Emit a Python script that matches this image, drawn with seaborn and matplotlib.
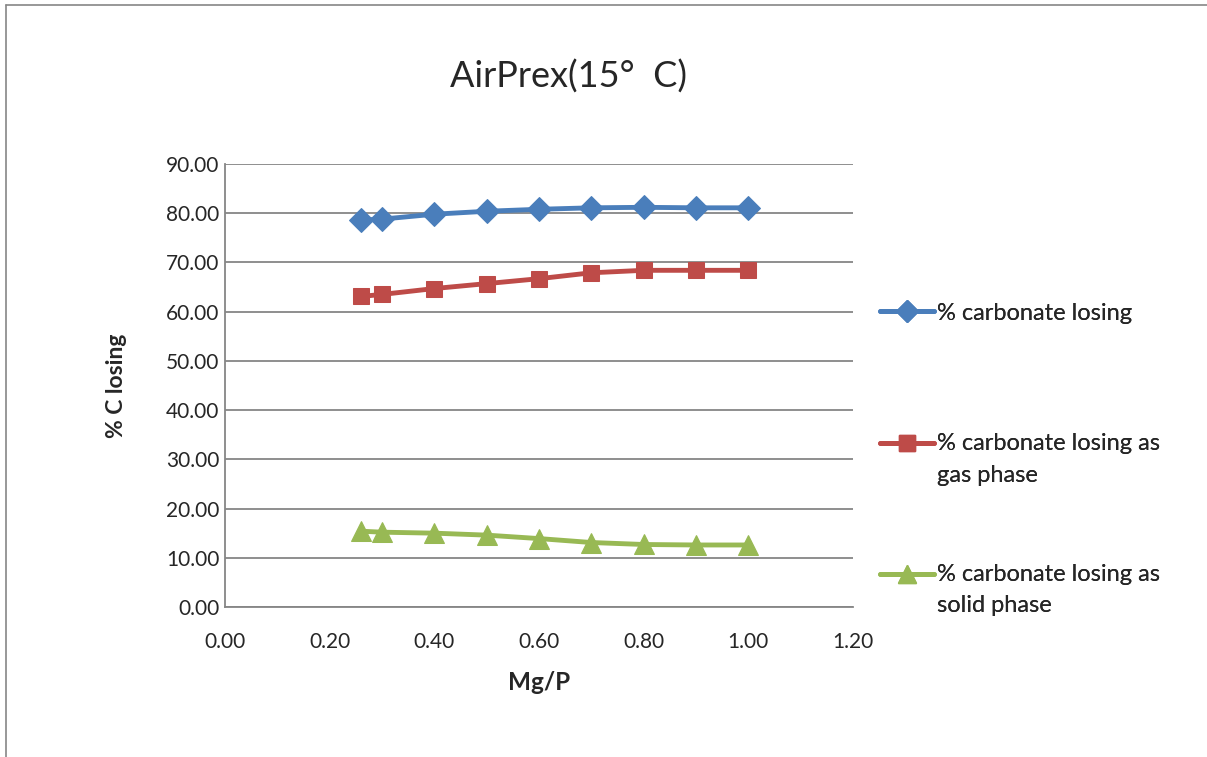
import matplotlib
matplotlib.use("Agg")
import matplotlib.pyplot as plt
import seaborn as sns
import pandas as pd
from matplotlib.lines import Line2D
from matplotlib.legend_handler import HandlerLine2D

mg_p = [0.26, 0.30, 0.40, 0.50, 0.60, 0.70, 0.80, 0.90, 1.00]
carbonate_losing = [78.6, 78.8, 79.8, 80.4, 80.8, 81.1, 81.2, 81.1, 81.1]
losing_gas = [63.1, 63.5, 64.7, 65.7, 66.7, 67.9, 68.4, 68.4, 68.4]
losing_solid = [15.4, 15.2, 15.0, 14.6, 13.9, 13.1, 12.7, 12.6, 12.6]

series_names = ["% carbonate losing",
                "% carbonate losing as\ngas phase",
                "% carbonate losing as\nsolid phase"]
colors = ["#4A7EBB", "#BE4B48", "#98B954"]
markers = ["D", "s", "^"]
marker_sizes = [12, 12, 14]

sns.set_style("white")
plt.rcParams['font.family'] = ['Lato', 'DejaVu Sans']

df = pd.DataFrame({
    "Mg/P": mg_p * 3,
    "value": carbonate_losing + losing_gas + losing_solid,
    "series": sum([[n] * len(mg_p) for n in series_names], []),
})

fig = plt.figure(figsize=(12.07, 7.57), dpi=100)
ax = fig.add_axes([225 / 1207, 1 - 607 / 757, (853 - 225) / 1207, (607 - 164) / 757])

for name, c, m, ms in zip(series_names, colors, markers, marker_sizes):
    sub = df[df["series"] == name]
    sns.lineplot(data=sub, x="Mg/P", y="value", ax=ax, color=c, marker=m,
                 markersize=ms, markeredgecolor=c, linewidth=3.5, legend=False,
                 zorder=3)

ax.set_xlim(0, 1.2)
ax.set_ylim(0, 90)
ax.set_xticks([0, 0.2, 0.4, 0.6, 0.8, 1.0, 1.2])
ax.set_yticks(range(0, 91, 10))
ax.set_xticklabels([f"{v:.2f}" for v in ax.get_xticks()], fontsize=15)
ax.set_yticklabels([f"{v:.2f}" for v in ax.get_yticks()], fontsize=15)
ax.tick_params(axis="x", length=0, pad=18)
ax.tick_params(axis="y", length=0, pad=4)
ax.grid(axis="y", color="#868686", linewidth=1.3)
ax.grid(axis="x", visible=False)
for s in ["top", "right"]:
    ax.spines[s].set_visible(False)
for s in ["left", "bottom"]:
    ax.spines[s].set_color("#868686")
    ax.spines[s].set_linewidth(1.3)

ax.set_xlabel("Mg/P", fontsize=17.5, fontweight="bold", labelpad=14)
ax.set_ylabel("% C losing", fontsize=16.5, fontweight="bold", labelpad=28)

fig.text(568 / 1207, 1 - 77 / 757, "AirPrex(15°  C)", fontsize=26,
         ha="center", va="center")


class FirstLineHandler(HandlerLine2D):
    def __init__(self, offset, **kw):
        super().__init__(**kw)
        self.offset = offset

    def create_artists(self, *args, **kwargs):
        arts = super().create_artists(*args, **kwargs)
        for a in arts:
            a.set_ydata([y + self.offset for y in a.get_ydata()])
        return arts


handles = [Line2D([0], [0], color=c, marker=m, markersize=ms - 1, linewidth=3.5,
                  markeredgecolor=c)
           for c, m, ms in zip(colors, markers, marker_sizes)]
positions = [313, 459.5, 590]
offsets = [0, 11.9, 11.9]
for h, name, yp, off in zip(handles, series_names, positions, offsets):
    leg = fig.legend([h], [name], loc="center left",
                     bbox_to_anchor=(880 / 1207, 1 - yp / 757),
                     frameon=False, fontsize=17, handlelength=2.3,
                     handletextpad=0.1, borderaxespad=0, borderpad=0,
                     handler_map={h: FirstLineHandler(off)})
    for t in leg.get_texts():
        t.set_linespacing(1.6)
    fig.add_artist(leg)

# outer border (top and left)
fig.add_artist(Line2D([6 / 1207, 6 / 1207], [0, 1 - 5 / 757], color="#868686",
                      linewidth=1.2, transform=fig.transFigure))
fig.add_artist(Line2D([6 / 1207, 1], [1 - 5 / 757, 1 - 5 / 757], color="#868686",
                      linewidth=1.2, transform=fig.transFigure))

fig.savefig("out.png", dpi=100)
